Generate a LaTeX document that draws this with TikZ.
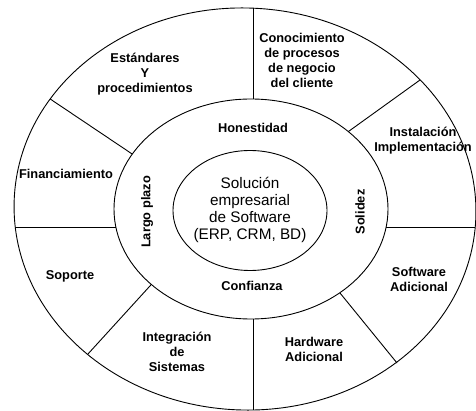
\documentclass[tikz,border=0pt]{standalone}
\usepackage{fontspec}
\setmainfont{Liberation Sans}

\begin{document}
\begin{tikzpicture}[x=1pt, y=-1pt, line width=0.9pt,
    ringlabel/.style={align=center, inner sep=0pt, font=\bfseries\fontsize{12.8}{15}\selectfont},
    centrelabel/.style={align=center, inner sep=0pt, font=\fontsize{15.3}{16.7}\selectfont}]
    \useasboundingbox (0,0) rectangle (476,411);

    \draw[rotate around={-2.5:(245,209)}] (245,209) ellipse [x radius=231, y radius=201];
    \draw (251,209) ellipse [x radius=137, y radius=110];
    \draw (250,210.5) ellipse [x radius=77, y radius=60];

    \draw (253,99) -- (253,8.2);
    \draw (348.3,131.6) -- (420,80);
    \draw (386.2,227) -- (475.3,227);
    \draw (340,293) -- (397,363);
    \draw (253,319) -- (253,410);
    \draw (151.3,284.5) -- (87.6,354.4);
    \draw (115.8,227) -- (15.2,227);
    \draw (132.3,154.1) -- (50.2,99);

    \node[ringlabel] (estandares) at (145,74) {Estándares\\Y\\procedimientos};
    \node[ringlabel] (conocimiento) at (302,60.5) {Conocimiento\\de procesos\\de negocio\\del cliente};
    \node[ringlabel] (instalacion) at (423,141) {Instalación\\Implementación};
    \node[ringlabel] (financiamiento) at (66,174) {Financiamiento};
    \node[ringlabel] (soporte) at (70,276) {Soporte};
    \node[ringlabel] (integracion) at (177,352) {Integración\\de\\Sistemas};
    \node[ringlabel] (hardware) at (314,349.5) {Hardware\\Adicional};
    \node[ringlabel] (software) at (419,279) {Software\\Adicional};

    \node[ringlabel] (honestidad) at (253,128) {Honestidad};
    \node[ringlabel] (confianza) at (252,286) {Confianza};
    \node[ringlabel, rotate=90] (largoplazo) at (147,212) {Largo plazo};
    \node[ringlabel, rotate=90] (solidez) at (360,212) {Solidez};

    \node[centrelabel] (solucion) at (250,210) {Solución\\empresarial\\de Software\\(ERP, CRM, BD)};
\end{tikzpicture}
\end{document}
